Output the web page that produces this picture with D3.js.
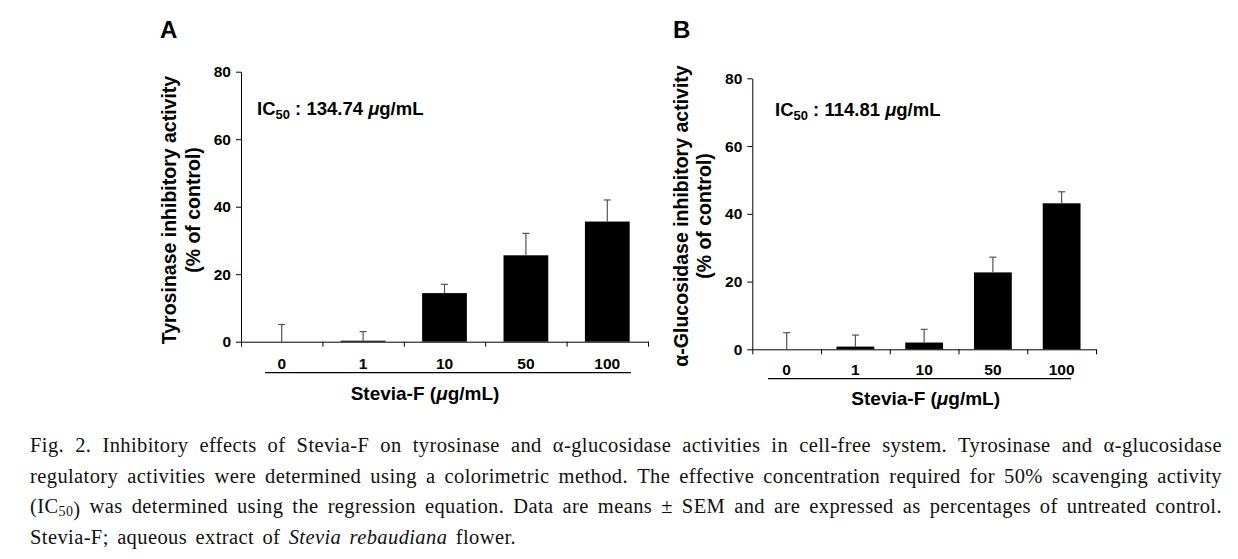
<!DOCTYPE html>
<html>
<head>
<meta charset="utf-8">
<script src="https://cdn.jsdelivr.net/npm/d3@7"></script>
<style>
  html, body { margin: 0; padding: 0; background: #fff; }
  svg { display: block; }
</style>
</head>
<body>
<svg id="chart" width="1238" height="559"></svg>
<script>
// ---------------- DATA ----------------
const categories = ["0", "1", "10", "50", "100"];
const yTicks = [0, 20, 40, 60, 80];
const tyrosinaseMean = [0, 0.3, 14.4, 25.6, 35.6];
const tyrosinaseErr  = [5.1, 2.7, 2.6, 6.5, 6.4];
const glucosidaseMean = [0, 0.8, 2.0, 22.7, 43.1];
const glucosidaseErr  = [4.9, 3.4, 3.9, 4.5, 3.4];
const ic50Values = ["134.74", "114.81"];
const panelLetters = ["A", "B"];
const yLabelsA = ["Tyrosinase inhibitory activity", "(% of control)"];
const yLabelsB = ["α-Glucosidase inhibitory activity", "(% of control)"];
const xTitle = "Stevia-F (";
const captionLines = [
  "Fig. 2. Inhibitory effects of Stevia-F on tyrosinase and α-glucosidase activities in cell-free system. Tyrosinase and α-glucosidase",
  "regulatory activities were determined using a colorimetric method. The effective concentration required for 50% scavenging activity",
  "(IC{50}) was determined using the regression equation. Data are means ± SEM and are expressed as percentages of untreated control.",
  "Stevia-F; aqueous extract of *Stevia* *rebaudiana* flower."
];

// ---------------- DRAW ----------------
const svg = d3.select("#chart");
const SANS = "'Liberation Sans', Arial, Helvetica, sans-serif";
const SERIF = "'Liberation Serif', 'Times New Roman', Times, serif";

const panels = [
  { letter: panelLetters[0], mean: tyrosinaseMean, err: tyrosinaseErr, ylab: yLabelsA, ic: ic50Values[0],
    x0: 241, x1: 648, yBase: 341.7, yTop: 71.7,
    letterX: 160, letterY: 38,
    ylabX: [169, 193], ylabY: 210,
    icX: 257, icY: 115,
    xPad: 16, ul: [265, 631, 372.7], titleX: 425, titleY: 400 },
  { letter: panelLetters[1], mean: glucosidaseMean, err: glucosidaseErr, ylab: yLabelsB, ic: ic50Values[1],
    x0: 752.3, x1: 1096, yBase: 349.3, yTop: 78.3,
    letterX: 673, letterY: 38,
    ylabX: [681, 704], ylabY: 216,
    icX: 775, icY: 116,
    xPad: 15, ul: [768, 1071, 378.7], titleX: 925.7, titleY: 405 }
];

panels.forEach(p => {
  const g = svg.append("g");
  const x = d3.scaleBand().domain(categories).range([p.x0, p.x1])
              .paddingInner(0.45).paddingOuter(0.225);
  const xb = d3.scaleLinear().domain([0, categories.length]).range([p.x0, p.x1]);
  const y = d3.scaleLinear().domain([0, 80]).range([p.yBase, p.yTop]);

  // panel letter
  g.append("text").attr("x", p.letterX).attr("y", p.letterY)
    .attr("font-family", SANS).attr("font-weight", "bold").attr("font-size", 24)
    .text(p.letter);

  // bars
  g.selectAll("rect.bar").data(p.mean).enter().append("rect")
    .attr("x", (d, i) => x(categories[i]))
    .attr("width", x.bandwidth())
    .attr("y", d => y(d))
    .attr("height", d => y(0) - y(d))
    .attr("fill", "#000");

  // error bars
  const eb = g.selectAll("g.eb").data(p.mean).enter().append("g")
    .attr("stroke", "#555").attr("stroke-width", 1.2);
  eb.append("line")
    .attr("x1", (d, i) => x(categories[i]) + x.bandwidth() / 2)
    .attr("x2", (d, i) => x(categories[i]) + x.bandwidth() / 2)
    .attr("y1", d => y(d))
    .attr("y2", (d, i) => y(d + p.err[i]));
  eb.append("line")
    .attr("x1", (d, i) => x(categories[i]) + x.bandwidth() / 2 - 3.5)
    .attr("x2", (d, i) => x(categories[i]) + x.bandwidth() / 2 + 3.5)
    .attr("y1", (d, i) => y(d + p.err[i]))
    .attr("y2", (d, i) => y(d + p.err[i]));

  // y axis
  const ya = g.append("g").attr("transform", `translate(${p.x0},0)`)
    .call(d3.axisLeft(y).tickValues(yTicks).tickSize(5).tickSizeOuter(0).tickPadding(5));
  ya.selectAll("path, line").attr("stroke", "#000").attr("stroke-width", 1);
  ya.selectAll("text").attr("font-family", SANS).attr("font-weight", "bold")
    .attr("font-size", 15.5).attr("fill", "#000");

  // x axis with boundary ticks
  const xa = g.append("g").attr("transform", `translate(0,${p.yBase})`)
    .call(d3.axisBottom(xb).tickValues(d3.range(categories.length + 1))
      .tickFormat("").tickSize(5).tickSizeOuter(0));
  xa.selectAll("path, line").attr("stroke", "#000").attr("stroke-width", 1);

  // category labels
  const xl = g.append("g").attr("transform", `translate(0,${p.yBase})`)
    .call(d3.axisBottom(x).tickSize(0).tickPadding(p.xPad));
  xl.select("path").remove();
  xl.selectAll("text").attr("font-family", SANS).attr("font-weight", "bold")
    .attr("font-size", 15.5).attr("fill", "#000");

  // underline below categories
  g.append("line").attr("x1", p.ul[0]).attr("x2", p.ul[1])
    .attr("y1", p.ul[2]).attr("y2", p.ul[2]).attr("stroke", "#000").attr("stroke-width", 1.3);

  // x title
  const xt = g.append("text").attr("x", p.titleX).attr("y", p.titleY)
    .attr("text-anchor", "middle").attr("font-family", SANS)
    .attr("font-weight", "bold").attr("font-size", 19);
  xt.append("tspan").text(xTitle);
  xt.append("tspan").attr("font-style", "italic").text("μ");
  xt.append("tspan").text("g/mL)");

  // y labels
  p.ylab.forEach((t, i) => {
    g.append("text")
      .attr("transform", `translate(${p.ylabX[i]},${p.ylabY}) rotate(-90)`)
      .attr("text-anchor", "middle").attr("dy", "0.36em")
      .attr("font-family", SANS).attr("font-weight", "bold").attr("font-size", 19.5)
      .text(t);
  });

  // IC50 annotation
  const ic = g.append("text").attr("x", p.icX).attr("y", p.icY)
    .attr("font-family", SANS).attr("font-weight", "bold").attr("font-size", 18.5);
  ic.append("tspan").text("IC");
  ic.append("tspan").attr("font-size", 13).attr("dy", 4).text("50");
  ic.append("tspan").attr("dy", -4).text(" : " + p.ic + " ");
  ic.append("tspan").attr("font-style", "italic").text("μ");
  ic.append("tspan").text("g/mL");
});

// ---------------- CAPTION (justified) ----------------
const capX0 = 30, capX1 = 1222, capY0 = 452, capDy = 30.7, lastEnd = 516;
const cap = svg.append("g").attr("font-family", SERIF).attr("font-size", 20.5)
  .attr("letter-spacing", 0.4).attr("fill", "#111");

captionLines.forEach((line, li) => {
  const words = line.split(" ");
  const nodes = words.map(w => {
    const t = cap.append("text").attr("x", 0).attr("y", capY0 + li * capDy);
    const m = w.match(/^\*(.*)\*$/);
    if (m) {
      t.append("tspan").attr("font-style", "italic").text(m[1]);
    } else {
      const parts = w.split(/\{(\d+)\}/);
      parts.forEach((s, k) => {
        if (!s) return;
        if (k % 2 === 1) {
          t.append("tspan").attr("font-size", 14).attr("dy", 3).text(s);
          t.append("tspan").attr("dy", -3).text("");
        } else {
          t.append("tspan").text(s);
        }
      });
    }
    return t;
  });
  const widths = nodes.map(n => n.node().getComputedTextLength());
  const total = d3.sum(widths);
  const end = li === captionLines.length - 1 ? lastEnd : capX1;
  const gap = (end - capX0 - total) / (words.length - 1);
  let cx = capX0;
  nodes.forEach((n, i) => { n.attr("x", cx); cx += widths[i] + gap; });
});
</script>
</body>
</html>
